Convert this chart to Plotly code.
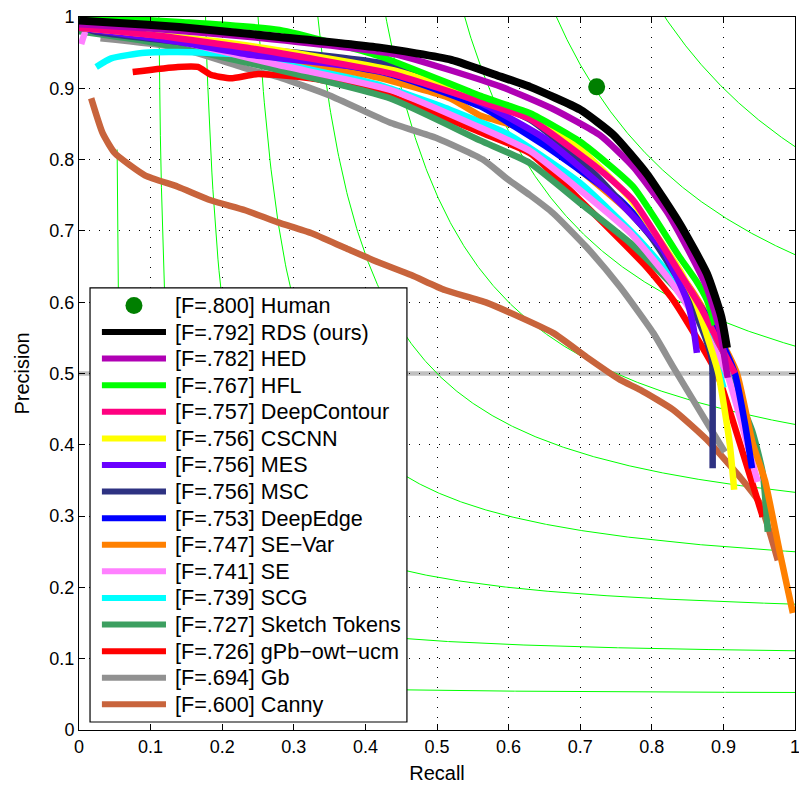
import numpy as np
import plotly.graph_objects as go

# ---------------- data ----------------
NAMES = ["RDS (ours)", "HED", "HFL", "DeepContour", "CSCNN", "MES", "MSC", "DeepEdge",
         "SE\u2212Var", "SE", "SCG", "Sketch Tokens", "gPb\u2212owt\u2212ucm", "Gb", "Canny"]
F_LABELS = [".792", ".782", ".767", ".757", ".756", ".756", ".756", ".753",
            ".747", ".741", ".739", ".727", ".726", ".694", ".600"]
COLORS = ["#000000", "#B000B4", "#00FF00", "#FF0080", "#FFFF00", "#6A00FF", "#2E3282", "#0000FF",
          "#FF8000", "#FF80FF", "#00FFFF", "#3C9F60", "#FF0000", "#919191", "#C8643C"]

human_r = [0.723]
human_p = [0.902]
HUMAN_F = ".800"

rds_r = [0.0, 0.05, 0.14, 0.28, 0.42, 0.52, 0.59, 0.63, 0.70, 0.746, 0.793, 0.839, 0.877, 0.897, 0.905]
rds_p = [0.995, 0.992, 0.986, 0.972, 0.957, 0.94, 0.916, 0.902, 0.87, 0.835, 0.78, 0.71, 0.64, 0.58, 0.536]

hed_r = [0.0, 0.1, 0.25, 0.44, 0.59, 0.66, 0.728, 0.774, 0.821, 0.85, 0.877, 0.895, 0.906]
hed_p = [0.99, 0.984, 0.971, 0.948, 0.902, 0.872, 0.834, 0.79, 0.727, 0.675, 0.62, 0.56, 0.494]

hfl_r = [0.0, 0.05, 0.14, 0.28, 0.42, 0.564, 0.63, 0.70, 0.774, 0.839, 0.862, 0.877, 0.888]
hfl_p = [1.0, 0.998, 0.993, 0.982, 0.945, 0.888, 0.865, 0.825, 0.762, 0.663, 0.63, 0.603, 0.568]

dc_r = [0.0, 0.1, 0.24, 0.434, 0.588, 0.63, 0.728, 0.774, 0.839, 0.87, 0.895, 0.916]
dc_p = [0.985, 0.975, 0.956, 0.921, 0.872, 0.857, 0.785, 0.743, 0.641, 0.59, 0.54, 0.50]

cscnn_r = [0.0, 0.2, 0.44, 0.564, 0.63, 0.70, 0.77, 0.839, 0.86, 0.878, 0.893, 0.909, 0.915]
cscnn_p = [0.985, 0.965, 0.925, 0.885, 0.862, 0.815, 0.745, 0.645, 0.603, 0.55, 0.50, 0.40, 0.337]

mes_r = [0.0, 0.14, 0.239, 0.434, 0.56, 0.65, 0.75, 0.816, 0.849, 0.858, 0.863]
mes_p = [0.985, 0.965, 0.947, 0.923, 0.88, 0.83, 0.745, 0.673, 0.603, 0.565, 0.529]

msc_r = [0.0, 0.02, 0.14, 0.25, 0.434, 0.63, 0.72, 0.80, 0.85, 0.875, 0.884, 0.885, 0.885]
msc_p = [0.99, 0.98, 0.965, 0.955, 0.933, 0.856, 0.78, 0.69, 0.61, 0.55, 0.52, 0.45, 0.367]

de_r = [0.0, 0.1, 0.25, 0.434, 0.56, 0.65, 0.756, 0.807, 0.85, 0.89, 0.916, 0.93, 0.94]
de_p = [0.985, 0.972, 0.952, 0.92, 0.875, 0.82, 0.743, 0.687, 0.62, 0.56, 0.50, 0.43, 0.367]

sevar_r = [0.0, 0.1, 0.25, 0.418, 0.518, 0.56, 0.63, 0.70, 0.77, 0.816, 0.86, 0.895, 0.919, 0.941, 0.958, 0.979, 0.997]
sevar_p = [0.985, 0.972, 0.95, 0.915, 0.886, 0.862, 0.84, 0.785, 0.725, 0.673, 0.61, 0.55, 0.50, 0.402, 0.35, 0.248, 0.164]

se_r = [0.003, 0.012, 0.03, 0.1, 0.278, 0.434, 0.56, 0.63, 0.70, 0.77, 0.825, 0.87, 0.905, 0.933, 0.948]
se_p = [0.962, 0.985, 0.984, 0.975, 0.933, 0.898, 0.845, 0.812, 0.757, 0.697, 0.631, 0.565, 0.50, 0.402, 0.348]

scg_r = [0.024, 0.045, 0.092, 0.138, 0.232, 0.324, 0.418, 0.518, 0.60, 0.70, 0.78, 0.84, 0.88, 0.90]
scg_p = [0.93, 0.942, 0.95, 0.951, 0.947, 0.928, 0.905, 0.87, 0.835, 0.767, 0.69, 0.62, 0.55, 0.48]

st_r = [0.0, 0.1, 0.239, 0.434, 0.56, 0.63, 0.70, 0.77, 0.839, 0.88, 0.915, 0.94, 0.955, 0.962]
st_p = [0.98, 0.965, 0.935, 0.886, 0.827, 0.795, 0.739, 0.683, 0.613, 0.55, 0.48, 0.42, 0.36, 0.278]

gpb_r = [0.075, 0.138, 0.166, 0.184, 0.212, 0.25, 0.324, 0.418, 0.564, 0.63, 0.70, 0.793, 0.83, 0.891, 0.923, 0.955]
gpb_p = [0.923, 0.93, 0.93, 0.919, 0.914, 0.92, 0.914, 0.895, 0.837, 0.809, 0.743, 0.649, 0.603, 0.50, 0.402, 0.299]

gb_r = [0.03, 0.138, 0.239, 0.278, 0.35, 0.434, 0.5, 0.564, 0.598, 0.63, 0.662, 0.709, 0.756, 0.802, 0.83, 0.877, 0.902]
gb_p = [0.97, 0.957, 0.926, 0.916, 0.89, 0.852, 0.83, 0.80, 0.773, 0.75, 0.725, 0.677, 0.621, 0.557, 0.509, 0.431, 0.39]

canny_r = [0.017, 0.033, 0.05, 0.092, 0.138, 0.184, 0.232, 0.278, 0.324, 0.372, 0.418, 0.464, 0.511,
           0.57, 0.662, 0.709, 0.756, 0.784, 0.83, 0.877, 0.923, 0.951, 0.976]
canny_p = [0.886, 0.837, 0.809, 0.778, 0.762, 0.743, 0.729, 0.712, 0.697, 0.676, 0.656, 0.638, 0.617,
           0.599, 0.557, 0.523, 0.491, 0.477, 0.449, 0.407, 0.355, 0.318, 0.238]

SERIES_R = [rds_r, hed_r, hfl_r, dc_r, cscnn_r, mes_r, msc_r, de_r, sevar_r, se_r, scg_r, st_r, gpb_r, gb_r, canny_r]
SERIES_P = [rds_p, hed_p, hfl_p, dc_p, cscnn_p, mes_p, msc_p, de_p, sevar_p, se_p, scg_p, st_p, gpb_p, gb_p, canny_p]

ISO_F = [0.1, 0.2, 0.3, 0.4, 0.5, 0.6, 0.7, 0.8, 0.9]
TICKS = [0, 0.1, 0.2, 0.3, 0.4, 0.5, 0.6, 0.7, 0.8, 0.9, 1]
TICK_TEXT = ["0", "0.1", "0.2", "0.3", "0.4", "0.5", "0.6", "0.7", "0.8", "0.9", "1"]

# ---------------- figure ----------------
FONT = "Liberation Sans, Arial, sans-serif"
fig = go.Figure()

# iso-F contours
for f in ISO_F:
    r = np.linspace(f / 2 + 1e-4, 1.0, 600)
    p = f * r / (2 * r - f)
    keep = p <= 1.2
    fig.add_trace(go.Scatter(x=r[keep], y=p[keep], mode="lines",
                             line=dict(color="#00FF00", width=1), hoverinfo="skip", showlegend=False))

# curves (draw last legend entry first so RDS is on top)
for i in reversed(range(len(NAMES))):
    w = 8 if i == 0 else 6.5
    fig.add_trace(go.Scatter(x=SERIES_R[i], y=SERIES_P[i], mode="lines",
                             name=f"[F={F_LABELS[i]}] {NAMES[i]}",
                             line=dict(color=COLORS[i], width=w, shape="spline", smoothing=0.5),
                             showlegend=False))

fig.add_trace(go.Scatter(x=human_r, y=human_p, mode="markers",
                         marker=dict(color="#007F00", size=17), name=f"[F={HUMAN_F}] Human",
                         showlegend=False))

shapes = []
# gray P=0.5 reference line
shapes.append(dict(type="line", xref="x domain", yref="y", x0=0, x1=1, y0=0.5, y1=0.5,
                   line=dict(color="#C0C0C0", width=4.5), layer="below"))

# manual legend (box in axis units, which span 0..1)
LX0, LX1, LY0, LY1 = 0.0154, 0.458, 0.0112, 0.620
ROW0, STEP = 0.5955, 0.0373
SYM_X0, SYM_X1, TXT_X = 0.032, 0.1215, 0.1313
shapes.append(dict(type="rect", xref="x", yref="y", x0=LX0, x1=LX1, y0=LY0, y1=LY1,
                   fillcolor="white", line=dict(color="black", width=1.2), layer="above"))
annotations = []
labels = [f"[F={HUMAN_F}] Human"] + [f"[F={F_LABELS[i]}] {NAMES[i]}" for i in range(len(NAMES))]
for k, lab in enumerate(labels):
    yy = ROW0 - STEP * k
    if k == 0:
        shapes.append(dict(type="circle", xref="x", yref="y", xsizemode="pixel", ysizemode="pixel",
                           xanchor=(SYM_X0 + SYM_X1) / 2, yanchor=yy, x0=-8.5, x1=8.5, y0=-8.5, y1=8.5,
                           fillcolor="#007F00", line=dict(color="#007F00", width=0), layer="above"))
    else:
        shapes.append(dict(type="line", xref="x", yref="y", x0=SYM_X0, x1=SYM_X1, y0=yy, y1=yy,
                           line=dict(color=COLORS[k - 1], width=6), layer="above"))
    annotations.append(dict(x=TXT_X, y=yy, xref="x", yref="y", text=lab, showarrow=False,
                            xanchor="left", yanchor="middle",
                            font=dict(family=FONT, size=21.6, color="black")))

axis_common = dict(range=[0, 1], tickvals=TICKS, ticktext=TICK_TEXT, ticks="inside", ticklen=6,
                   tickcolor="black", showline=True, linecolor="black", linewidth=1, mirror="ticks",
                   showgrid=True, gridcolor="#000000", gridwidth=1, griddash="1px,9px",
                   zeroline=False, automargin=False, ticklabeloverflow="allow",
                   tickfont=dict(family=FONT, size=18, color="black"))

fig.update_layout(
    width=799, height=785,
    margin=dict(l=79, r=4, t=17, b=55, autoexpand=False),
    paper_bgcolor="white", plot_bgcolor="white",
    xaxis=dict(**axis_common, title=dict(text="Recall", font=dict(family=FONT, size=20, color="black"), standoff=10)),
    yaxis=dict(**axis_common, title=dict(text="Precision", font=dict(family=FONT, size=20, color="black"), standoff=14)),
    shapes=shapes, annotations=annotations, showlegend=False,
)

# remove the page's default body margin and scrollbars so the figure fills the window exactly
fig.write_html("out.html", config={"displayModeBar": False},
               post_script="document.body.style.margin='0';document.body.style.overflow='hidden';")
